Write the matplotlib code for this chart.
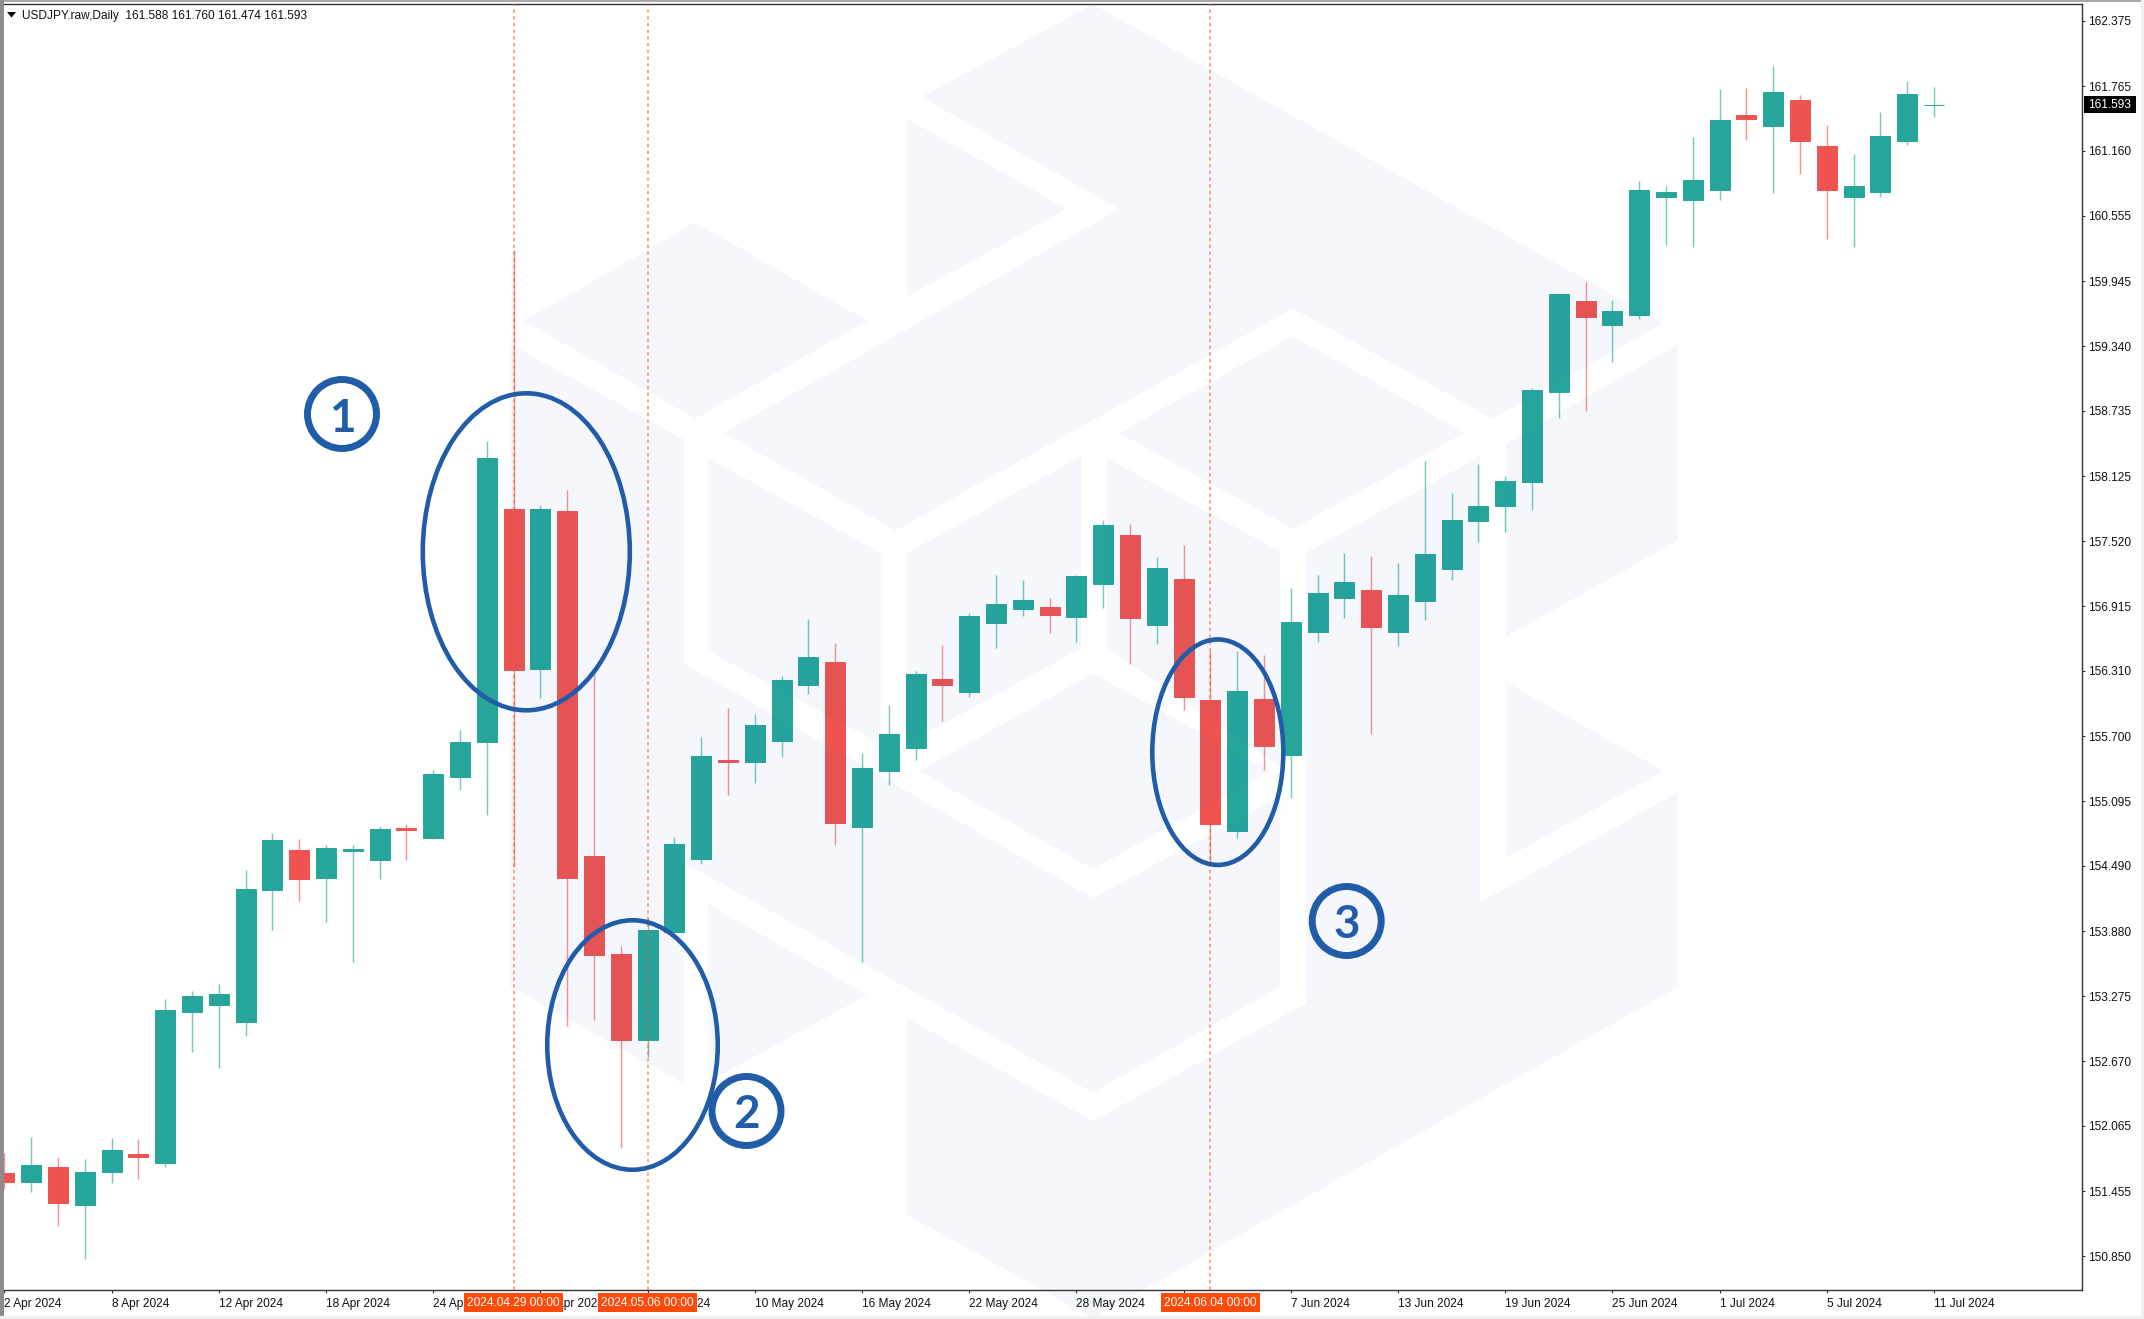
import matplotlib
matplotlib.use("Agg")
import matplotlib.pyplot as plt
from matplotlib import font_manager as fm
from matplotlib.patches import Polygon, Ellipse, Rectangle
from matplotlib.transforms import Affine2D, blended_transform_factory

W, H = 2144, 1319

opens = [151.628,151.538,151.683,151.323,151.631,151.804,151.715,153.131,153.195,153.038,
         154.268,154.641,154.381,154.631,154.548,154.844,154.754,155.322,155.649,157.820,
         156.330,157.801,154.583,153.669,152.869,153.877,154.558,155.478,155.463,155.659,
         156.181,156.392,154.856,155.379,155.593,156.234,156.116,156.760,156.890,156.906,
         156.816,157.124,157.578,156.741,157.167,156.038,154.819,156.048,155.528,156.676,
         156.993,157.064,156.676,156.965,157.264,157.711,157.851,158.075,158.915,159.761,
         159.537,159.633,160.734,160.706,160.799,161.496,161.396,161.636,161.206,160.734,
         160.780,161.256,161.588]
highs = [151.811,151.958,151.772,151.756,151.952,151.940,153.247,153.324,153.385,154.451,
         154.798,154.740,154.683,154.683,154.859,154.882,155.386,155.759,158.454,160.236,
         157.854,157.997,156.318,153.743,154.001,154.760,155.693,155.963,155.907,156.262,
         156.794,156.570,155.544,155.991,156.309,156.551,156.847,157.204,157.158,156.990,
         157.204,157.717,157.680,157.372,157.484,156.499,156.495,156.458,157.083,157.204,
         157.410,157.382,157.316,158.268,157.969,158.240,158.128,158.949,159.826,159.938,
         159.770,160.880,160.833,161.290,161.738,161.748,161.953,161.682,161.402,161.132,
         161.524,161.813,161.760]
lows = [151.474,151.445,151.130,150.824,151.529,151.573,151.686,152.759,152.601,152.900,
        153.895,154.166,153.964,153.597,154.372,154.548,154.737,155.194,154.969,154.483,
        156.060,153.000,153.056,151.862,152.705,153.860,154.511,155.155,155.267,155.509,
        156.097,154.689,153.597,155.248,155.481,155.846,156.069,156.527,156.822,156.666,
        156.582,156.900,156.377,156.564,155.948,154.530,154.754,155.388,155.127,156.582,
        156.806,155.724,156.545,156.788,157.161,157.515,157.609,157.814,158.672,158.738,
        159.195,159.596,160.286,160.267,160.706,161.266,160.771,160.948,160.342,160.267,
        160.734,161.219,161.474]
closes = [151.544,151.702,151.342,151.637,151.840,151.779,153.147,153.279,153.295,154.275,
          154.734,154.372,154.657,154.647,154.833,154.830,155.348,155.646,158.295,156.321,
          157.820,154.381,153.662,152.869,153.892,154.695,155.516,155.460,155.805,156.224,
          156.439,154.894,155.404,155.721,156.281,156.181,156.822,156.934,156.971,156.834,
          157.195,157.671,156.806,157.270,156.069,154.885,156.122,155.612,156.766,157.036,
          157.139,156.722,157.018,157.400,157.718,157.848,158.081,158.930,159.826,159.614,
          159.667,160.796,160.777,160.889,161.449,161.461,161.710,161.256,160.799,160.833,
          161.300,161.692,161.593]

x_tick_labels = ["2 Apr 2024","8 Apr 2024","12 Apr 2024","18 Apr 2024","24 Apr 2024","30 Apr 2024",
                 "6 May 2024","10 May 2024","16 May 2024","22 May 2024","28 May 2024","3 Jun 2024",
                 "7 Jun 2024","13 Jun 2024","19 Jun 2024","25 Jun 2024","1 Jul 2024","5 Jul 2024","11 Jul 2024"]
y_tick_values = [162.375,161.765,161.160,160.555,159.945,159.340,158.735,158.125,157.520,156.915,
                 156.310,155.700,155.095,154.490,153.880,153.275,152.670,152.065,151.455,150.850]
marker_bars = [19, 24, 45]
marker_labels = ["2024.04.29 00:00", "2024.05.06 00:00", "2024.06.04 00:00"]
header = "USDJPY.raw,Daily  161.588 161.760 161.474 161.593"
last_price = 161.593

GREEN, RED = "#26a69a", "#ef5350"
BLUE = "#215ca8"
ORANGE = "#ff4a0a"

installed = {f.name for f in fm.fontManager.ttflist}
FONT = "Liberation Sans Narrow" if "Liberation Sans Narrow" in installed else "Liberation Sans"
FS = 10.2 if FONT.endswith("Narrow") else 8.6
plt.rcParams["font.family"] = [FONT, "DejaVu Sans"]

fig = plt.figure(figsize=(W / 100, H / 100), dpi=100, facecolor="white")
ax_l, ax_r, ax_t, ax_b = 4.0, 2082.0, 4.3, 1290.0
ax = fig.add_axes([ax_l / W, 1 - ax_b / H, (ax_r - ax_l) / W, (ax_b - ax_t) / H])
ax.set_facecolor("white")
PX = Affine2D().scale(1, -1).translate(0, H)

ax.set_xlim((ax_l - 4.4) / 26.8, (ax_r - 4.4) / 26.8)
ax.set_ylim(162.568 - ax_b / 107.2, 162.568 - ax_t / 107.2)

# candles
n = len(opens)
for i in range(n):
    col = GREEN if closes[i] >= opens[i] else RED
    ax.plot([i, i], [lows[i], highs[i]], color=col, lw=1.05, alpha=0.62, zorder=2, solid_capstyle="butt")
idx = list(range(n))
body_lo = [min(a, b) for a, b in zip(opens, closes)]
body_h = [abs(a - b) for a, b in zip(opens, closes)]
cols = [GREEN if c >= o else RED for o, c in zip(opens, closes)]
ax.bar(idx, body_h, bottom=body_lo, width=0.74, color=cols, edgecolor=cols, linewidth=0.7, zorder=3)

# watermark (overlaid so that candles are tinted where it crosses them)
def wm(points):
    return [(480 + a / 1.2645, b / 1.206) for a, b in points]
shapes = [
    [(558,117),(775,5),(1497,390),(1280,505),(1028,372),(525,640),(308,522),(808,252)],
    [(540,143),(742,252),(540,358)],
    [(55,387),(272,268),(490,387),(272,505)],
    [(38,415),(258,530),(258,800),(775,1083),(1012,960),(1012,1190),(775,1318),(258,1040),(258,1307),(38,1190)],
    [(288,552),(507,667),(507,897),(288,785)],
    [(540,667),(760,550),(760,782),(540,897)],
    [(555,930),(775,812),(1000,930),(775,1048)],
    [(792,552),(1012,665),(1012,925),(792,782)],
    [(808,522),(1028,405),(1245,522),(1028,638)],
    [(1044,667),(1265,550),(1265,1088),(1515,955),(1515,1190),(775,1590),(540,1465),(540,1228),(775,1352),(1044,1210)],
    [(1297,535),(1515,415),(1515,652),(1297,768)],
    [(1297,822),(1497,930),(1297,1035)],
    [(288,1090),(490,1200),(288,1305)],
]
for s in shapes:
    ax.add_patch(Polygon(wm(s), closed=True, transform=PX, facecolor=(31/255, 92/255, 200/255),
                         alpha=0.045, edgecolor="none", clip_on=False, zorder=4))

# marker lines and their labels
blend = blended_transform_factory(ax.transData, PX)
for b, lab in zip(marker_bars, marker_labels):
    ax.axvline(b, color="#ff5a1f", lw=1.1, alpha=0.7, ls=(0, (2.2, 2.2)), zorder=5)
    ax.text(b, 1302.5, lab, transform=blend, ha="center", va="center", color="white", fontsize=FS,
            zorder=12, clip_on=False,
            bbox=dict(boxstyle="square,pad=0.28", facecolor=ORANGE, edgecolor="none"))

# annotations
for cx, cy, w, h in [(526.3, 551.8, 207, 317), (632.5, 1045, 170.5, 249.5), (1217.8, 752.2, 131, 225.5)]:
    ax.add_patch(Ellipse((cx, cy), w, h, transform=PX, fill=False, edgecolor=BLUE, lw=3.3, zorder=8, clip_on=False))
for num, cx, cy in [("1", 342, 414), ("2", 746.5, 1111), ("3", 1346.7, 921)]:
    ax.add_patch(Ellipse((cx, cy), 69, 69, transform=PX, fill=False, edgecolor=BLUE, lw=5, zorder=8, clip_on=False))
    ax.text(cx, cy + 0.5, num, transform=PX, ha="center", va="center_baseline", color=BLUE,
            fontsize=33, fontweight="bold", family=["Lato", "DejaVu Sans"], zorder=9)

# axes
ax.spines["left"].set_visible(False)
for s in ("top", "right", "bottom"):
    ax.spines[s].set_color("#333333")
    ax.spines[s].set_linewidth(1.0)
ax.yaxis.tick_right()
ax.set_yticks(y_tick_values)
ax.set_yticklabels([f"{v:.3f}" for v in y_tick_values], fontsize=FS, color="#111111")
ax.tick_params(axis="y", length=2.5, width=0.8, pad=2, color="#333333")
ax.set_xticks(list(range(0, 4 * len(x_tick_labels), 4)))
ax.set_xticklabels(x_tick_labels, fontsize=FS, color="#111111", ha="left")
ax.tick_params(axis="x", length=2.5, width=0.8, pad=3, color="#333333")

# current price tag
ax.add_patch(Rectangle((2084, 95.7), 51.7, 17.6, transform=PX, facecolor="black", edgecolor="none", clip_on=False, zorder=11))
ax.text(2110, 104.5, f"{last_price:.3f}", transform=PX, ha="center", va="center", color="white",
        fontsize=FS, clip_on=False, zorder=12)

# header
ax.add_patch(Polygon([(7, 12), (16, 12), (11.5, 17.5)], transform=PX, facecolor="black", edgecolor="none", zorder=12))
ax.text(22, 16, header, transform=PX, ha="left", va="center", color="#111111", fontsize=FS, zorder=12)

# window frame
for x, y, w, h, c in [(0, 0, W, 2, "#a8a8a8"), (0, 0, 4, H, "#8c8c8c"), (0, H - 3, W, 3, "#f0f0f0"), (W - 3, 0, 3, H, "#f0f0f0")]:
    ax.add_patch(Rectangle((x, y), w, h, transform=PX, facecolor=c, edgecolor="none", clip_on=False, zorder=20))

fig.savefig("out.png", dpi=100, facecolor="white")
